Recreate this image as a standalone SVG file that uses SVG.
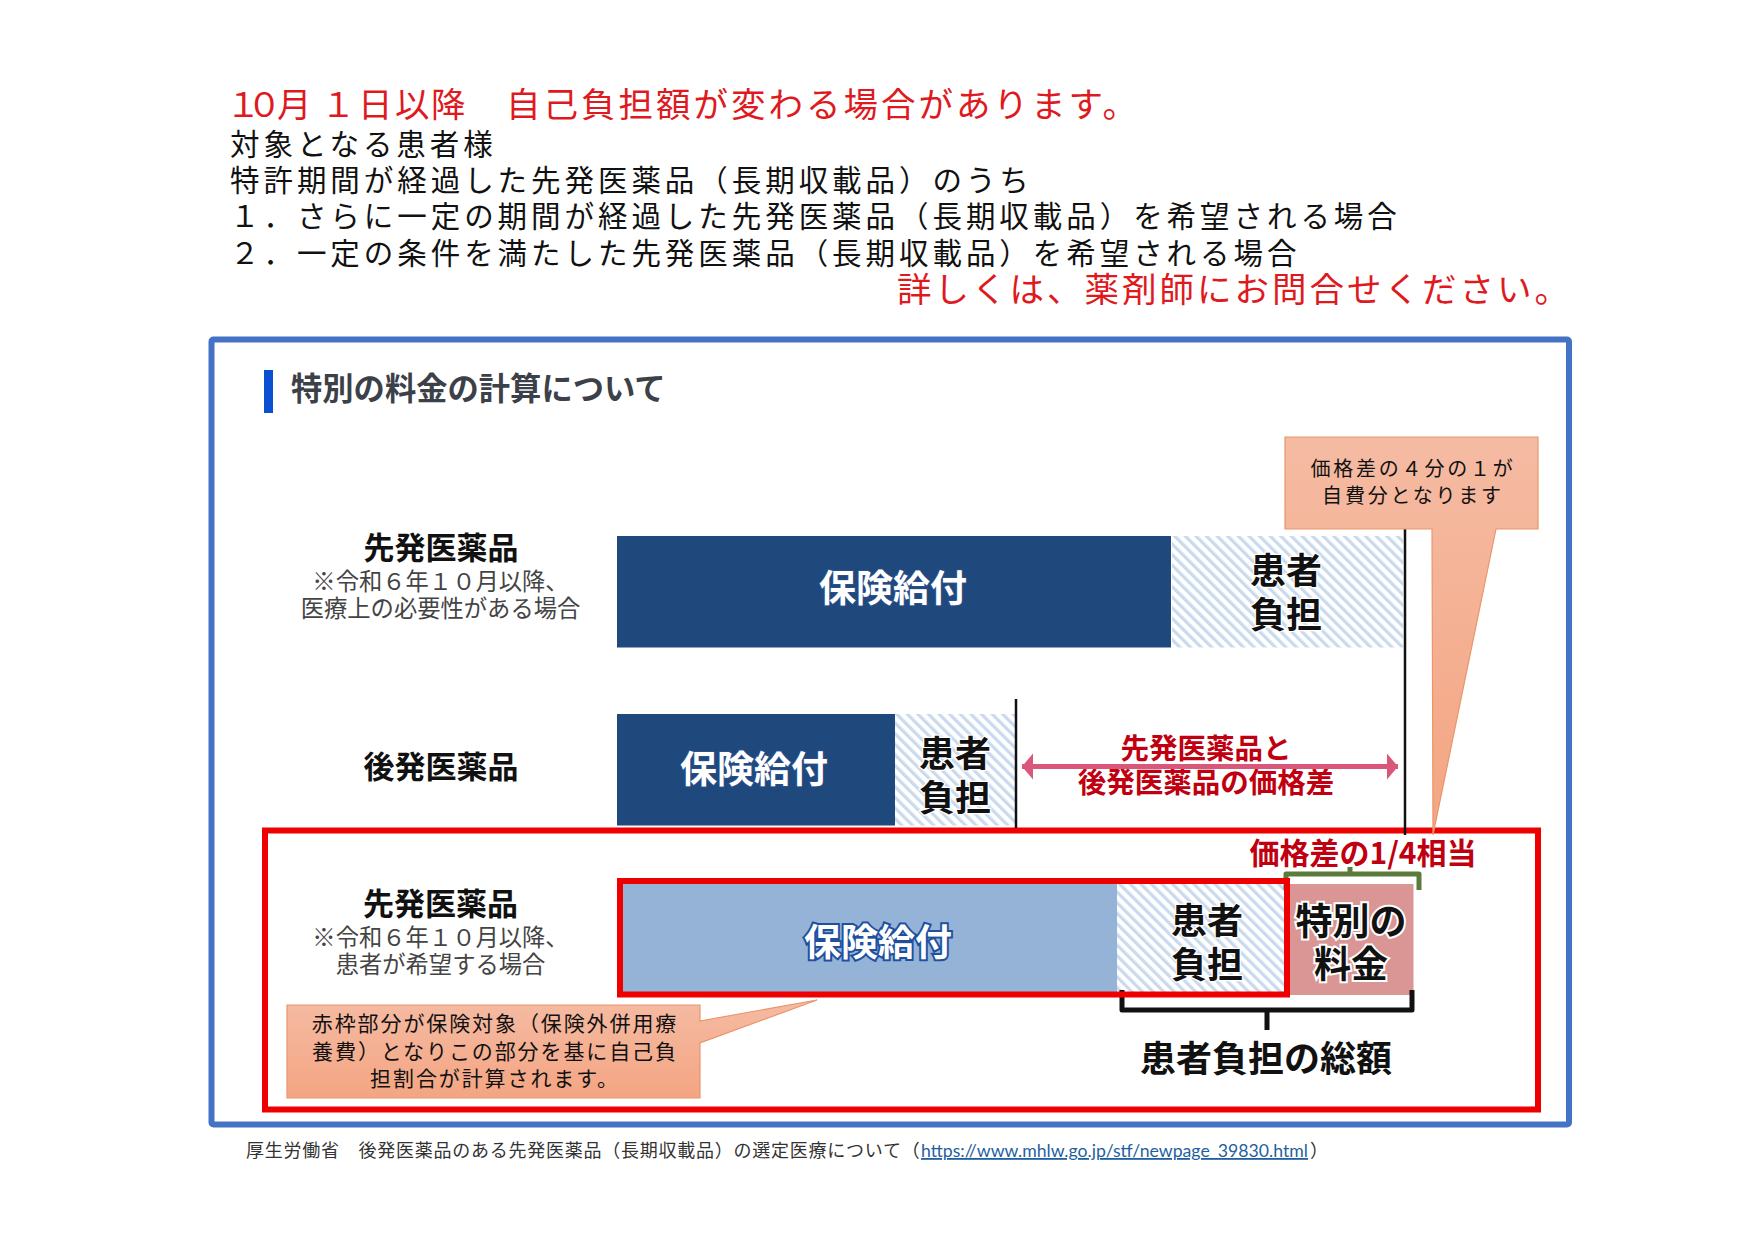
<svg xmlns="http://www.w3.org/2000/svg" width="1755" height="1240" viewBox="0 0 1755 1240">
<style>
text{font-family:"Noto Sans CJK JP","Noto Sans",sans-serif;}
.m{text-anchor:middle}
.red{font-size:34.500px;letter-spacing:3px;fill:#de1a1e}
.blk{font-size:29.500px;letter-spacing:3.95px;fill:#111}
.name{font-size:31px;font-weight:700;fill:#111;text-anchor:middle;paint-order:stroke;stroke:#fff;stroke-width:1.5px}
.sub{font-size:23.300px;fill:#444;text-anchor:middle}
.ins{font-size:37px;font-weight:700;fill:#fff;text-anchor:middle;paint-order:stroke;stroke:#2a4f8a;stroke-width:2px}
.insl{stroke:#1f4f9e;stroke-width:4px}
.pat{font-size:36px;font-weight:700;fill:#111;text-anchor:middle;paint-order:stroke;stroke:#fff;stroke-width:2.5px}
.big{font-size:37px;stroke-width:4px}
.dif{font-size:28.500px;font-weight:700;fill:#c00010;text-anchor:middle;paint-order:stroke;stroke:#fff;stroke-width:1.5px}
.note{font-size:21px;letter-spacing:1.9px;fill:#111;text-anchor:middle}
.note2{font-size:20px;letter-spacing:2.8px}
.call{stroke:#e8966a;stroke-width:1.2px}
.brk{fill:none;stroke-linejoin:round}
</style>
<defs>
<pattern id="hatch" width="7.500" height="7.500" patternUnits="userSpaceOnUse" patternTransform="rotate(-45)">
<rect width="7.500" height="7.500" fill="#fff"/><rect width="3.200" height="7.500" fill="#c9daee"/>
</pattern>
<linearGradient id="g1" x1="0" y1="0" x2="0" y2="1"><stop offset="0" stop-color="#f5bba3"/><stop offset="1" stop-color="#f4a582"/></linearGradient>
<marker id="ah" markerUnits="userSpaceOnUse" markerWidth="12" markerHeight="28" refX="11" refY="13" orient="auto-start-reverse"><path d="M0 0L11 13L0 26Z" fill="#d9577a"/></marker>
</defs>
<rect width="1755" height="1240" fill="#fff"/>
<g id="header">
<text class="red" y="117"><tspan x="226 247 277 321 358 395 431">１０月１日以降</tspan><tspan x="506">自己負担額が変わる場合があります。</tspan></text>
<text class="blk" x="230" y="155">対象となる患者様</text>
<text class="blk" x="230" y="191">特許期間が経過した先発医薬品（長期収載品）のうち</text>
<text class="blk" x="230" y="227">１．さらに一定の期間が経過した先発医薬品（長期収載品）を希望される場合</text>
<text class="blk" x="230" y="264">２．一定の条件を満たした先発医薬品（長期収載品）を希望される場合</text>
<text class="red" x="897" y="302">詳しくは、薬剤師にお問合せください。</text>
</g>
<g id="frame"><rect x="211.500" y="339.500" width="1357.500" height="785" rx="2" fill="#fff" stroke="#4472c4" stroke-width="6"/></g>
<g id="title">
<rect x="264" y="370" width="9" height="43" fill="#0b50d0"/>
<text x="291" y="400" font-size="31.300" font-weight="700" fill="#3c4048">特別の料金の計算について</text>
</g>
<g id="row1">
<text class="name" x="441" y="559">先発医薬品</text>
<text class="sub" x="440.500" y="590">※令和６年１０月以降、</text>
<text class="sub" x="440.500" y="617">医療上の必要性がある場合</text>
<rect x="617" y="536" width="554" height="111.500" fill="#1f497d"/>
<rect x="1172" y="536" width="231" height="111.500" fill="url(#hatch)"/>
<text class="ins" x="893" y="602">保険給付</text>
<text class="pat" x="1286" y="583.500">患者</text>
<text class="pat" x="1286" y="627.500">負担</text>
</g>
<g id="row2">
<text class="name" x="441" y="778">後発医薬品</text>
<rect x="617" y="714" width="278" height="111.500" fill="#1f497d"/>
<rect x="895" y="714" width="120" height="111.500" fill="url(#hatch)"/>
<text class="ins" x="754" y="783">保険給付</text>
<text class="pat" x="955" y="766.500">患者</text>
<text class="pat" x="955" y="810.500">負担</text>
</g>
<g id="price-gap">
<text class="dif" x="1206" y="759">先発医薬品と</text>
<text class="dif" x="1206" y="793">後発医薬品の価格差</text>
</g>
<g id="scope-box"><rect x="265" y="830.500" width="1273" height="279" fill="none" stroke="#ee0000" stroke-width="6"/></g>
<g id="row3">
<text class="name" x="440.500" y="915">先発医薬品</text>
<text class="sub" x="440.500" y="946">※令和６年１０月以降、</text>
<text class="sub" x="440.500" y="973">患者が希望する場合</text>
<rect x="620" y="881" width="497" height="113" fill="#95b3d7"/>
<rect x="1117" y="884" width="170" height="110" fill="url(#hatch)"/>
<rect x="1287" y="884" width="126.500" height="111" fill="#d99694"/>
<text class="ins insl" x="878" y="956">保険給付</text>
<text class="pat" x="1207" y="934">患者</text>
<text class="pat" x="1207" y="978">負担</text>
<text class="pat big" x="1351" y="935">特別の</text>
<text class="pat big" x="1351" y="978">料金</text>
<text class="dif" x="1363" y="864" style="font-size:30px">価格差の1/4相当</text>
<text x="1266" y="1072" class="m" font-size="36" font-weight="700" fill="#111">患者負担の総額</text>
</g>
<g id="connectors">
<path d="M1405 529V835" stroke="#111" stroke-width="2.500" fill="none"/>
<path d="M1016 699V828" stroke="#111" stroke-width="2.500" fill="none"/>
<path d="M1022 766.500H1398" stroke="#d9577a" stroke-width="5" fill="none" marker-start="url(#ah)" marker-end="url(#ah)"/>
<path class="brk" d="M1286 890V874H1419V890M1350 874V867" stroke="#5c7a3a" stroke-width="5"/>
<path class="brk" d="M1122 990V1010H1412V990M1267 1010V1030" stroke="#111" stroke-width="5"/>
</g>
<g id="covered-box"><rect x="620" y="881" width="667" height="113.500" fill="none" stroke="#ee0000" stroke-width="6"/></g>
<g id="callout-top">
<path class="call" fill="url(#g1)" d="M1285 437H1538V529H1496L1433 835L1432 529H1285Z"/>
<text class="note note2" x="1413" y="476">価格差の４分の１が</text>
<text class="note note2" x="1413" y="503">自費分となります</text>
</g>
<g id="callout-bottom">
<path class="call" fill="url(#g1)" d="M287 1005H700V1021L817 1000L700 1043V1098H287Z"/>
<text class="note" x="495" y="1031">赤枠部分が保険対象（保険外併用療</text>
<text class="note" x="495" y="1059">養費）となりこの部分を基に自己負</text>
<text class="note" x="495" y="1086">担割合が計算されます。</text>
</g>
<g id="footer">
<text x="246" y="1157" font-size="18" letter-spacing=".75" fill="#333">厚生労働省　後発医薬品のある先発医薬品（長期収載品）の選定医療について（</text>
<text x="921" y="1157" font-size="18" fill="#1f5f9f" text-decoration="underline" textLength="387" lengthAdjust="spacingAndGlyphs" style="font-family:Lato,'Liberation Sans',sans-serif">https://www.mhlw.go.jp/stf/newpage_39830.html</text>
<text x="1310" y="1157" font-size="18" fill="#333">）</text>
</g>
</svg>
